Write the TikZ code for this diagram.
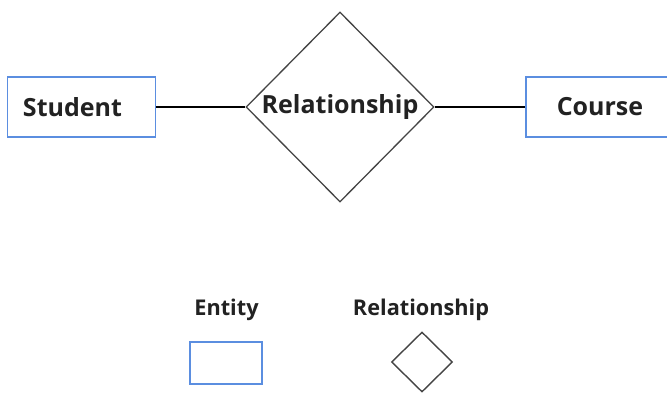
\documentclass[tikz,border=0pt]{standalone}
\usepackage{fontspec}
\setmainfont{Open Sans}
\usetikzlibrary{shapes.geometric}
\definecolor{entityblue}{HTML}{5B8EE0}
\definecolor{inkgray}{HTML}{222222}
\definecolor{diagray}{HTML}{444444}
\tikzset{
  entity/.style={draw=entityblue, line width=1.4pt, fill=white, minimum width=148pt,
    minimum height=60pt, inner sep=0pt, text=inkgray, font=\bfseries\fontsize{25}{28}\selectfont},
  relation/.style={draw=diagray, line width=1.3pt, fill=white, diamond, shape aspect=1,
    inner sep=0pt, text=inkgray, font=\bfseries\fontsize{25}{28}\selectfont},
  link/.style={draw=black, line width=1.6pt},
  legendtext/.style={text=inkgray, font=\bfseries\fontsize{21.7}{24}\selectfont},
}
\begin{document}
\begin{tikzpicture}[x=1pt, y=-1pt]
  \clip (0,0) rectangle (667,392);
  \useasboundingbox (0,0) rectangle (667,392);
  \fill[white] (0,0) rectangle (667,392);

  % main diagram
  \node[relation, minimum width=188pt, minimum height=190pt] (rel) at (340,107) {Relationship};
  \node[entity, text width=117pt, align=left, inner xsep=15.5pt] (student) at (81.5,107) {Student};
  \node[entity] (course) at (600,107) {Course};
  \draw[link] (student.east) -- (rel.west);
  \draw[link] (rel.east) -- (course.west);

  % legend
  \node[legendtext] (lent) at (226.5,310) {Entity};
  \node[legendtext] (lrel) at (421,310) {Relationship};
  \node[draw=entityblue, line width=2pt, minimum width=72pt, minimum height=42pt, inner sep=0pt] (lbox) at (225.5,363) {};
  \node[draw=diagray, line width=1.4pt, diamond, shape aspect=1, minimum width=61pt, minimum height=60pt, inner sep=0pt] (ldia) at (422,362) {};
\end{tikzpicture}
\end{document}
